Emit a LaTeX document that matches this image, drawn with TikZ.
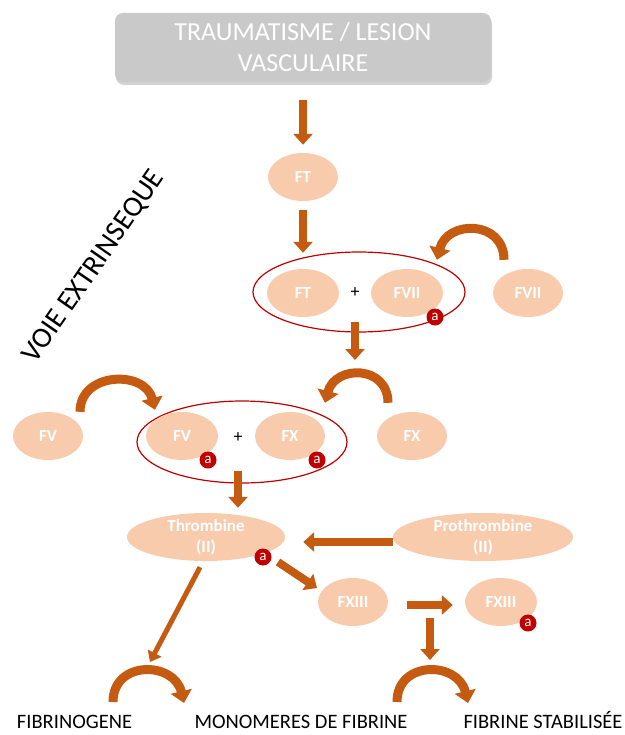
\documentclass[tikz,border=0pt]{standalone}
\usepackage{fontspec}
\setmainfont{Carlito}
\usetikzlibrary{shapes.geometric,arrows.meta,calc,shadows}
\definecolor{arr}{HTML}{C55A11}
\definecolor{peach}{HTML}{F8CBAD}
\definecolor{redc}{HTML}{C00000}
\definecolor{grayb}{HTML}{C9C9C9}
\tikzset{
  fac/.style={ellipse, fill=peach, text=white, font=\fontsize{17}{21}\selectfont\bfseries,
    inner sep=0pt, minimum width=70pt, minimum height=48pt, align=center},
  twoline/.style={inner ysep=-8pt},
  cplx/.style={ellipse, draw=redc, line width=1.2pt, inner sep=0pt},
  badge/.style={circle, fill=redc, text=white, inner sep=0pt, minimum size=17pt,
    font=\fontsize{15}{15}\selectfont},
  plussign/.style={font=\fontsize{18}{18}\selectfont, inner sep=1pt},
  blockarrow/.style={draw=arr, line width=8pt, -{Triangle[width=19pt,length=11pt]}},
  thinarrow/.style={draw=arr, line width=5pt, -{Triangle[width=15pt,length=10pt]}},
  arcarrow/.style={draw=arr, line width=9pt, -{Triangle[width=21pt,length=12pt]}},
  lbl/.style={font=\fontsize{20.5}{24}\selectfont, inner sep=0pt, anchor=base},
}
\begin{document}
\begin{tikzpicture}[x=1pt,y=-1pt]
\useasboundingbox (0,0) rectangle (624,735);

% title box
\node[fill=grayb, rounded corners=8pt, minimum width=376pt, minimum height=69pt,
  drop shadow={shadow xshift=1pt, shadow yshift=-3pt, opacity=0.35},
  text=white, font=\fontsize{26}{31}\selectfont, align=center] (box) at (303,47.5)
  {TRAUMATISME / LESION\\VASCULAIRE};

% side label
\node[font=\fontsize{29}{29}\selectfont, rotate=55.4, inner sep=0pt] (voie) at (94,267) {VOIE EXTRINSEQUE};

% first complex
\node[fac] (ft1) at (303,177) {FT};
\node[cplx, minimum width=212pt, minimum height=80pt] (cplx1) at (359,292) {};
\node[fac, minimum width=72pt] (ft2) at (303,293) {FT};
\node[plussign] (plus1) at (355,293) {+};
\node[fac, minimum width=72pt] (fvii1) at (407,293) {FVII};
\node[badge] (a1) at (435,317) {a};
\node[fac] (fvii2) at (528,293) {FVII};

% second complex
\node[cplx, minimum width=210pt, minimum height=82pt] (cplx2) at (242,442) {};
\node[fac] (fv1) at (48,436) {FV};
\node[fac, minimum width=72pt] (fv2) at (182,436) {FV};
\node[plussign] (plus2) at (238,438) {+};
\node[fac] (fx2) at (290,436) {FX};
\node[badge] (a2) at (208,460) {a};
\node[badge] (a3) at (317,460) {a};
\node[fac] (fx1) at (412,436) {FX};

% thrombine row
\node[fac, twoline, minimum width=158pt] (thr) at (206,537) {Thrombine\\(II)};
\node[badge] (a4) at (263,557) {a};
\node[fac, twoline, minimum width=180pt] (pro) at (483,537) {Prothrombine\\(II)};
\node[fac] (fxiii1) at (353,602) {FXIII};
\node[fac, minimum width=72pt] (fxiii2) at (501,602) {FXIII};
\node[badge] (a5) at (528,623) {a};

% bottom labels
\node[lbl] (fib) at (74.5,728) {FIBRINOGENE};
\node[lbl] (mono) at (301,728) {MONOMERES DE FIBRINE};
\node[lbl] (fibs) at (543,728) {FIBRINE STABILISÉE};

% free end points
\coordinate (k1) at (355,360);
\coordinate (k2) at (430,618);
\coordinate (k3) at (430,660);
\coordinate (k4) at (150,662);
\coordinate (b1) at (113,702);
\coordinate (b2) at (184,703);
\coordinate (b3) at (397,702);
\coordinate (b4) at (468,703);

% straight arrows
\draw[blockarrow, shorten <=18pt, shorten >=8pt] (box.south) -- (ft1.north);
\draw[blockarrow, shorten <=9pt, shorten >=16pt] (ft1.south) -- (ft2.north);
\draw[blockarrow, shorten <=23pt] (plus1) -- (k1);
\draw[blockarrow, shorten <=27pt, shorten >=5pt] (plus2) -- (plus2 |- thr.north);
\draw[blockarrow, shorten >=18pt] ($(pro.west)+(0,5)$) -- ($(thr.east)+(0,5)$);
\draw[blockarrow] ($(a4)+(15,5)$) -- ($(fxiii1)+(-36,-14)$);
\draw[blockarrow, shorten <=19pt, shorten >=12pt] ($(fxiii1.east)+(0,3)$) -- ($(fxiii2.west)+(0,3)$);
\draw[blockarrow] (k2) -- (k3);
\draw[thinarrow] ($(thr.south)+(-6,6)$) -- (k4);

% curved arrows
\draw[arcarrow] ($(fvii2.north)+(-24,-9)$) .. controls +(0,-40) and +(10,-40) .. ($(fvii1.north)+(30,-9)$);
\draw[arcarrow] ($(fx1.north)+(-24,-9)$) .. controls +(0,-38) and +(10,-38) .. ($(fx2.north)+(35,-9)$);
\draw[arcarrow] ($(fv1.north)+(32,0)$) .. controls +(0,-40) and +(-10,-40) .. ($(fv2.north)+(-27,-2)$);
\draw[arcarrow] (b1) .. controls +(0,-42) and +(-10,-42) .. (b2);
\draw[arcarrow] (b3) .. controls +(0,-42) and +(-10,-42) .. (b4);
\end{tikzpicture}
\end{document}
